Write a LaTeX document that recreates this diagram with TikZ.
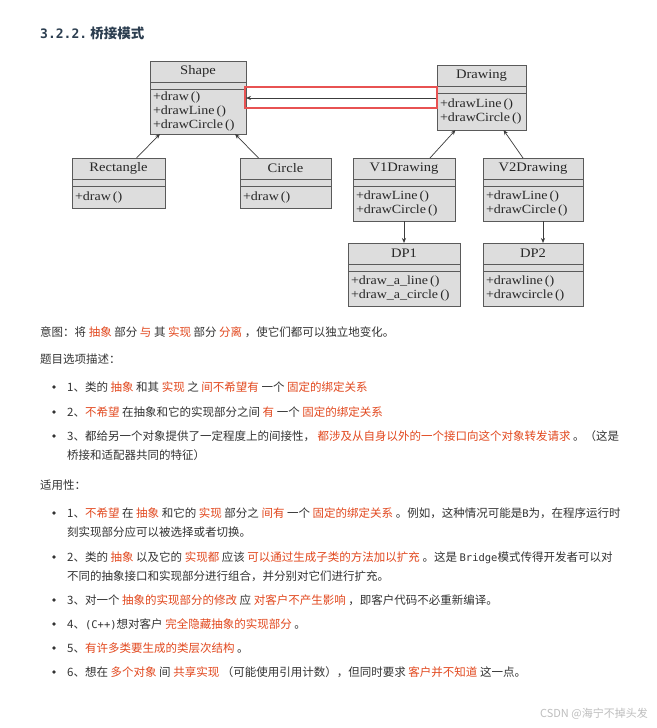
\documentclass[tikz,border=0pt]{standalone}
\usepackage{fontspec}
\setmainfont{Liberation Serif}
\newfontfamily\cjk{Noto Sans CJK SC}
\newfontfamily\uml[FakeStretch=1.12]{Liberation Serif}
\newfontfamily\mono{DejaVu Sans Mono}
\usetikzlibrary{arrows.meta,positioning}
\definecolor{boxfill}{RGB}{221,221,221}
\definecolor{boxline}{RGB}{90,90,90}
\definecolor{umltext}{RGB}{40,40,40}
\definecolor{arrowgray}{RGB}{60,60,60}
\definecolor{hlline}{RGB}{232,82,82}
\definecolor{hlred}{RGB}{226,72,30}
\definecolor{bodytext}{RGB}{51,51,51}
\definecolor{titlecol}{RGB}{44,62,80}
\definecolor{wmgray}{RGB}{190,190,190}
\newcommand{\redtxt}[1]{\textcolor{hlred}{#1}}

\begin{document}
\begin{tikzpicture}[x=1pt,y=-1pt,
      arr/.style={-{Stealth[length=5pt,width=4pt]}, line width=0.7pt, arrowgray},
      cname/.style={draw=boxline, fill=boxfill, line width=0.8pt, minimum height=21pt,
                    inner sep=0pt, outer sep=0pt, text=umltext,
                    font=\uml\fontsize{13}{14}\selectfont},
      cgap/.style={draw=boxline, fill=boxfill, line width=0.8pt, minimum height=7pt,
                   inner sep=0pt, outer sep=0pt},
      cbody/.style={draw=boxline, fill=boxfill, line width=0.8pt, inner xsep=3pt,
                    inner ysep=2pt, outer sep=0pt, align=left, text=umltext,
                    font=\uml\fontsize{12.5}{14}\selectfont},
      txt/.style={anchor=base west, inner sep=0pt, text=bodytext,
                  font=\cjk\fontsize{11.5}{14}\selectfont},
      dot/.style={circle, fill=bodytext, inner sep=0pt, minimum size=3.6pt},
      hlbox/.style={draw=hlline, line width=1.3pt}
    ]
    \fill[white] (0,0) rectangle (656,728);
    \useasboundingbox (0,0) rectangle (656,728);

    \node[txt, text=titlecol, font=\cjk\bfseries\fontsize{13.5}{16}\selectfont] (title) at (40,38)
      {{\mono\bfseries\fontsize{13}{16}\selectfont 3.2.2.}\ 桥接模式};

    \node[cname, minimum width=96pt, anchor=north west] (shape) at (150,61) {Shape};
    \node[cgap, minimum width=96pt, below=0pt of shape] (shape-g) {};
    \node[cbody, text width=90pt, minimum height=45pt, below=0pt of shape-g] (shape-m)
      {+draw\,()\\+drawLine\,()\\+drawCircle\,()};

    \node[cname, minimum width=93pt, anchor=north west] (rect) at (72,158) {Rectangle};
    \node[cgap, minimum width=93pt, below=0pt of rect] (rect-g) {};
    \node[cbody, text width=87pt, minimum height=22pt, below=0pt of rect-g] (rect-m) {+draw\,()};

    \node[cname, minimum width=91pt, anchor=north west] (circ) at (240,158) {Circle};
    \node[cgap, minimum width=91pt, below=0pt of circ] (circ-g) {};
    \node[cbody, text width=85pt, minimum height=22pt, below=0pt of circ-g] (circ-m) {+draw\,()};

    \node[cname, minimum width=89pt, anchor=north west] (drw) at (437,65) {Drawing};
    \node[cgap, minimum width=89pt, below=0pt of drw] (drw-g) {};
    \node[cbody, text width=83pt, minimum height=37pt, below=0pt of drw-g] (drw-m)
      {+drawLine\,()\\+drawCircle\,()};

    \node[cname, minimum width=102pt, anchor=north west] (v1) at (353,158) {V1Drawing};
    \node[cgap, minimum width=102pt, below=0pt of v1] (v1-g) {};
    \node[cbody, text width=96pt, minimum height=35pt, below=0pt of v1-g] (v1-m)
      {+drawLine\,()\\+drawCircle\,()};

    \node[cname, minimum width=100pt, anchor=north west] (v2) at (483,158) {V2Drawing};
    \node[cgap, minimum width=100pt, below=0pt of v2] (v2-g) {};
    \node[cbody, text width=94pt, minimum height=35pt, below=0pt of v2-g] (v2-m)
      {+drawLine\,()\\+drawCircle\,()};

    \node[cname, minimum width=112pt, anchor=north west] (dp1) at (348,243) {DP1};
    \node[cgap, minimum width=112pt, below=0pt of dp1] (dp1-g) {};
    \node[cbody, text width=106pt, minimum height=35pt, below=0pt of dp1-g] (dp1-m)
      {+draw\_a\_line\,()\\+draw\_a\_circle\,()};

    \node[cname, minimum width=100pt, anchor=north west] (dp2) at (483,243) {DP2};
    \node[cgap, minimum width=100pt, below=0pt of dp2] (dp2-g) {};
    \node[cbody, text width=94pt, minimum height=35pt, below=0pt of dp2-g] (dp2-m)
      {+drawline\,()\\+drawcircle\,()};

    \draw[arr] ([xshift=18pt]rect.north) -- ([xshift=-38pt]shape-m.south);
    \draw[arr] ([xshift=-27pt]circ.north) -- ([xshift=37pt]shape-m.south);
    \draw[arr] ([xshift=26pt]v1.north) -- ([xshift=-26pt]drw-m.south);
    \draw[arr] ([xshift=-10pt]v2.north) -- ([xshift=22pt]drw-m.south);
    \draw[arr] (v1-m.south) -- (dp1.north);
    \draw[arr] ([xshift=10pt]v2-m.south) -- ([xshift=10pt]dp2.north);
    \draw[arr] ([yshift=-5pt]drw-m.north west) -- ([yshift=-9pt]shape-m.north east);
    \draw[hlbox] ([xshift=-1pt,yshift=2pt]shape-m.north east) rectangle ([yshift=-15pt]drw-m.north west);

    \node[txt] (intent) at (40,336)
      {意图：将 \redtxt{抽象} 部分 \redtxt{与} 其 \redtxt{实现} 部分 \redtxt{分离} ，使它们都可以独立地变化。};
    \node[txt] (opts) at (40,363) {题目选项描述：};
    \node[dot] (d1) at (54,387) {};
    \node[txt] (o1) at (67,391)
      {1、类的 \redtxt{抽象} 和其 \redtxt{实现} 之 \redtxt{间不希望有} 一个 \redtxt{固定的绑定关系}};
    \node[dot] (d2) at (54,412) {};
    \node[txt] (o2) at (67,416)
      {2、\redtxt{不希望} 在抽象和它的实现部分之间 \redtxt{有} 一个 \redtxt{固定的绑定关系}};
    \node[dot] (d3) at (54,436) {};
    \node[txt] (o3) at (67,440)
      {3、都给另一个对象提供了一定程度上的间接性， \redtxt{都涉及从自身以外的一个接口向这个对象转发请求} 。（这是};
    \node[txt] (o3b) at (67,459) {桥接和适配器共同的特征）};

    \node[txt] (use) at (40,489) {适用性：};
    \node[dot] (u1) at (54,513) {};
    \node[txt] (a1) at (67,517)
      {1、\redtxt{不希望} 在 \redtxt{抽象} 和它的 \redtxt{实现} 部分之 \redtxt{间有} 一个 \redtxt{固定的绑定关系} 。例如，这种情况可能是{\mono\fontsize{10.5}{14}\selectfont B}为，在程序运行时};
    \node[txt] (a1b) at (67,536) {刻实现部分应可以被选择或者切换。};
    \node[dot] (u2) at (54,557) {};
    \node[txt] (a2) at (67,561)
      {2、类的 \redtxt{抽象} 以及它的 \redtxt{实现都} 应该 \redtxt{可以通过生成子类的方法加以扩充} 。这是 {\mono\fontsize{10.5}{14}\selectfont Bridge}模式传得开发者可以对};
    \node[txt] (a2b) at (67,580) {不同的抽象接口和实现部分进行组合，并分别对它们进行扩充。};
    \node[dot] (u3) at (54,600) {};
    \node[txt] (a3) at (67,604)
      {3、对一个 \redtxt{抽象的实现部分的修改} 应 \redtxt{对客户不产生影响} ，即客户代码不必重新编译。};
    \node[dot] (u4) at (54,624) {};
    \node[txt] (a4) at (67,628)
      {4、{\mono\fontsize{10.5}{14}\selectfont (C++)}想对客户 \redtxt{完全隐藏抽象的实现部分} 。};
    \node[dot] (u5) at (54,648) {};
    \node[txt] (a5) at (67,652) {5、\redtxt{有许多类要生成的类层次结构} 。};
    \node[dot] (u6) at (54,672) {};
    \node[txt] (a6) at (67,676)
      {6、想在 \redtxt{多个对象} 间 \redtxt{共享实现} （可能使用引用计数），但同时要求 \redtxt{客户并不知道} 这一点。};

    \node[txt, anchor=base east, text=wmgray, font=\cjk\fontsize{11}{13}\selectfont] (wm) at (648,717)
      {CSDN @海宁不掉头发};
  \end{tikzpicture}
\end{document}
